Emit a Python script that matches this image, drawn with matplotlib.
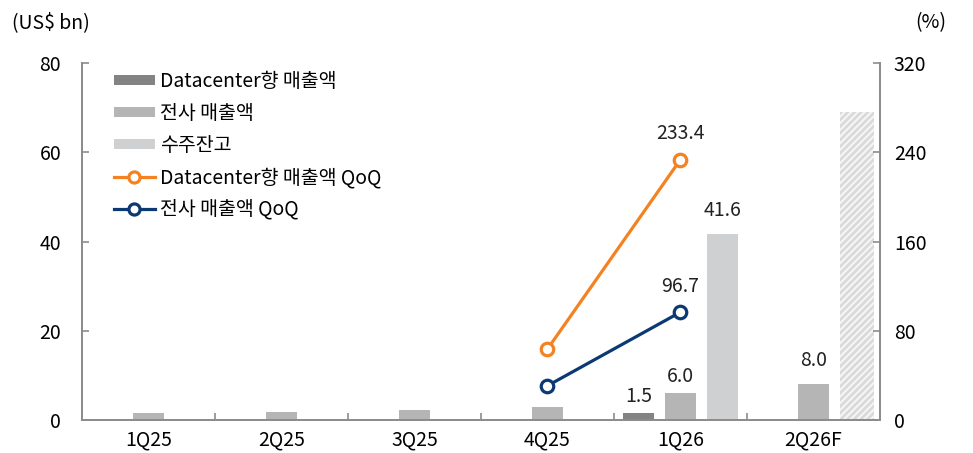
import numpy as np
import matplotlib
matplotlib.use("Agg")
import matplotlib.pyplot as plt
from matplotlib.lines import Line2D
from matplotlib.patches import Patch

plt.rcParams['font.family'] = ['Noto Sans CJK KR', 'DejaVu Sans']
plt.rcParams['hatch.linewidth'] = 2.0

# Quarterly figures (US$ bn) and QoQ growth (%)
quarters = ['1Q25', '2Q25', '3Q25', '4Q25', '1Q26', '2Q26F']
dc_sales = [0.0, 0.0, 0.0, 0.25, 1.5, np.nan]
total_sales = [1.5, 1.7, 2.2, 2.9, 6.0, 8.0]
backlog = [np.nan, np.nan, np.nan, np.nan, 41.6, 69.0]
backlog_is_forecast = [False, False, False, False, False, True]
dc_qoq = [np.nan, np.nan, np.nan, 63.6, 233.4, np.nan]
total_qoq = [np.nan, np.nan, np.nan, 30.7, 96.7, np.nan]

C_DC = '#838383'
C_TOTAL = '#b5b5b6'
C_BACKLOG = '#cfd0d2'
C_HATCH = '#dadada'
C_ORANGE = '#f58220'
C_NAVY = '#0b3a73'
C_SPINE = '#8c8c8c'
FS = 14

fig = plt.figure(figsize=(9.73, 4.53), dpi=100)
ax = fig.add_axes([0.0843, 0.0728, 0.82, 0.788])
ax2 = ax.twinx()

x = np.arange(len(quarters))
w = 0.235
off = 0.315

ax.bar(x - off, dc_sales, w, color=C_DC, zorder=2)
ax.bar(x, total_sales, w, color=C_TOTAL, zorder=2)
for xi, v, fc in zip(x, backlog, backlog_is_forecast):
    if np.isnan(v):
        continue
    if fc:
        ax.bar(xi + off + 0.01, v, w + 0.02, facecolor='#f7f7f7',
               edgecolor=C_HATCH, linewidth=0, hatch='/////', zorder=2)
    else:
        ax.bar(xi + off, v, w, color=C_BACKLOG, zorder=2)

# value labels on bars
lab_kw = dict(ha='center', va='bottom', fontsize=FS, color='#222222')
ax.text(x[4] - off, dc_sales[4] + 1.4, f'{dc_sales[4]:.1f}', **lab_kw)
ax.text(x[4], total_sales[4] + 1.4, f'{total_sales[4]:.1f}', **lab_kw)
ax.text(x[4] + off, backlog[4] + 3.0, f'{backlog[4]:.1f}', **lab_kw)
ax.text(x[5], total_sales[5] + 3.0, f'{total_sales[5]:.1f}', **lab_kw)

# QoQ lines on the right axis
ax2.plot(x, dc_qoq, color=C_ORANGE, lw=2.3, marker='o', ms=9,
         mfc='white', mec=C_ORANGE, mew=2.3, zorder=3)
ax2.plot(x, total_qoq, color=C_NAVY, lw=2.3, marker='o', ms=9,
         mfc='white', mec=C_NAVY, mew=2.3, zorder=3)
ax2.text(x[4], dc_qoq[4] + 14, f'{dc_qoq[4]:.1f}', **lab_kw)
ax2.text(x[4], total_qoq[4] + 14, f'{total_qoq[4]:.1f}', **lab_kw)

ax.set_xlim(-0.5, len(quarters) - 0.5)
ax.set_ylim(0, 80)
ax2.set_ylim(0, 320)
ax.set_yticks([0, 20, 40, 60, 80])
ax2.set_yticks([0, 80, 160, 240, 320])
ax.set_xticks(x)
ax.set_xticklabels(quarters)
ax.set_xticks(np.arange(0.5, len(quarters) - 1, 1.0), minor=True)

for a in (ax, ax2):
    a.spines['top'].set_visible(False)
    for s in ('left', 'right', 'bottom'):
        a.spines[s].set_color(C_SPINE)
        a.spines[s].set_linewidth(1.3)
ax.tick_params(axis='y', direction='in', length=5, color=C_SPINE, pad=15,
               labelsize=FS, width=1.2)
ax2.tick_params(axis='y', direction='in', length=5, color=C_SPINE, pad=10,
                labelsize=FS, width=1.2)
ax.tick_params(axis='x', which='major', length=0, pad=7, labelsize=FS)
ax.tick_params(axis='x', which='minor', direction='in', length=5,
               color=C_SPINE, width=1.2)

fig.text(0.012, 0.95, '(US$ bn)', fontsize=FS, ha='left', va='center')
fig.text(0.972, 0.95, '(%)', fontsize=FS, ha='right', va='center')

handles = [
    Patch(facecolor=C_DC, edgecolor='none'),
    Patch(facecolor=C_TOTAL, edgecolor='none'),
    Patch(facecolor=C_BACKLOG, edgecolor='none'),
    Line2D([], [], color=C_ORANGE, lw=2.3, marker='o', ms=8, mfc='white',
           mec=C_ORANGE, mew=2.3),
    Line2D([], [], color=C_NAVY, lw=2.3, marker='o', ms=8, mfc='white',
           mec=C_NAVY, mew=2.3),
]
labels = ['Datacenter향 매출액', '전사 매출액', '수주잔고',
          'Datacenter향 매출액 QoQ', '전사 매출액 QoQ']
leg = ax.legend(handles, labels, loc='upper left', bbox_to_anchor=(0.023, 1.015),
                frameon=False, fontsize=FS, handlelength=2.1, handleheight=0.4,
                handletextpad=0.25, labelspacing=0.56, borderpad=0.2)
ax2.set_zorder(ax.get_zorder() + 1)
ax2.patch.set_visible(False)

fig.savefig('out.png', dpi=100)
